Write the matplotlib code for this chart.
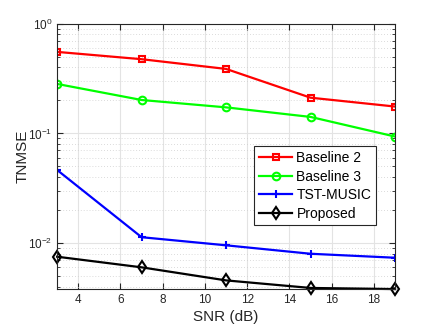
import matplotlib
matplotlib.use('Agg')
from matplotlib import pyplot as plt
from matplotlib.ticker import LogLocator, NullFormatter
import numpy as np

plt.rcParams['font.family'] = ['Liberation Sans', 'DejaVu Sans']
plt.rcParams['mathtext.fontset'] = 'custom'
plt.rcParams['mathtext.rm'] = 'Liberation Sans'

snr = [3, 7, 11, 15, 19]
baseline2 = [0.555, 0.476, 0.388, 0.212, 0.176]
baseline3 = [0.283, 0.202, 0.173, 0.1415, 0.0937]
tst_music = [0.0464, 0.0113, 0.00953, 0.00798, 0.00734]
proposed = [0.0075, 0.0060, 0.00456, 0.00389, 0.0038]

fig = plt.figure(figsize=(4.36, 3.27), dpi=100)
ax = fig.add_axes([0.131, 0.116, 0.775, 0.811])

ax.semilogy(snr, baseline2, '-s', color='#ff0000', lw=1.6, ms=5, mfc='none', mew=1.5, label='Baseline 2')
ax.semilogy(snr, baseline3, '-o', color='#00ff00', lw=1.6, ms=5.5, mfc='none', mew=1.5, label='Baseline 3')
ax.semilogy(snr, tst_music, '-+', color='#0000ff', lw=1.6, ms=6, mew=1.5, label='TST-MUSIC')
ax.semilogy(snr, proposed, '-d', color='black', lw=1.6, ms=6, mfc='none', mew=1.5, label='Proposed', clip_on=False)

ax.set_xlim(3, 19)
ax.set_ylim(0.0038, 1)
ax.set_xticks([4, 6, 8, 10, 12, 14, 16, 18])
ax.yaxis.set_major_locator(LogLocator(base=10, numticks=10))
ax.yaxis.set_minor_locator(LogLocator(base=10, subs=np.arange(2, 10), numticks=10))
ax.yaxis.set_minor_formatter(NullFormatter())

ax.grid(True, which='major', color='#e3e3e3', lw=0.8)
ax.grid(True, which='minor', axis='y', color='#cfcfcf', lw=0.6, ls=(0, (1, 2.5)))
ax.set_axisbelow(True)

for s in ax.spines.values():
    s.set_color('#262626')
    s.set_linewidth(0.8)
ax.tick_params(which='both', direction='in', top=True, right=True, colors='#262626', labelsize=8.5)
ax.tick_params(which='major', length=4)
ax.tick_params(which='minor', length=2)

ax.set_xlabel('SNR (dB)', fontsize=11, color='#262626', labelpad=3)
ax.set_ylabel('TNMSE', fontsize=11, color='#262626', labelpad=-1)

leg = ax.legend(loc='upper left', bbox_to_anchor=(0.583, 0.538), fontsize=10, fancybox=False,
                framealpha=1, edgecolor='#262626', borderpad=0.35, labelspacing=0.32,
                handlelength=2.4, handletextpad=0.3, borderaxespad=0)
leg.get_frame().set_linewidth(0.8)

fig.savefig('out.png', dpi=100)
